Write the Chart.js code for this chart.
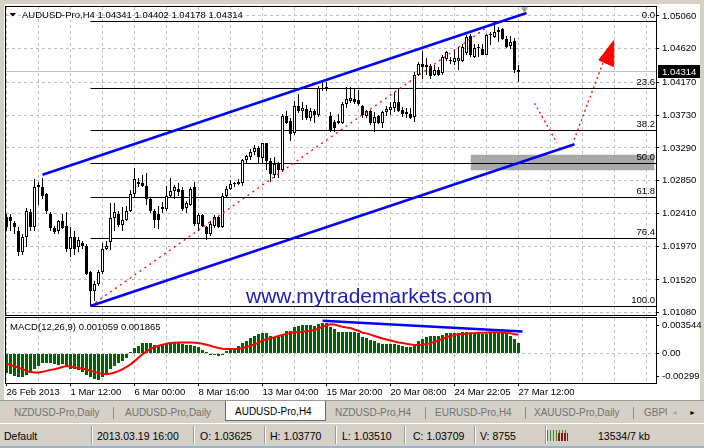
<!DOCTYPE html>
<html>
<head>
<meta charset="utf-8">
<script src="https://cdn.jsdelivr.net/npm/chart.js@4.4.1/dist/chart.umd.min.js"></script>
<style>
  html,body{margin:0;padding:0;}
  body{width:704px;height:448px;position:relative;overflow:hidden;background:#d4d0c8;font-family:'Liberation Sans',Arial,sans-serif;}
  #win{position:absolute;left:4px;top:4px;width:696px;height:396px;background:#fff;}
  canvas{position:absolute;left:0;}
  #price{top:0;}
  #macd{top:316px;}
  #tabs{position:absolute;left:0;top:400px;width:704px;height:23px;background:#d4d0c8;border-top:1px solid #9a9a9a;box-sizing:border-box;}
  #tabs .tt{position:absolute;top:6px;font-size:10px;line-height:11px;color:#707070;white-space:nowrap;}
  #tabs .vs{position:absolute;top:6px;width:1px;height:12px;background:#8a8a8a;}
  #tabs .act{position:absolute;top:0;height:20px;background:#fff;border:1px solid #6a6a6a;border-top:none;box-sizing:border-box;}
  #tabs .act span{position:absolute;left:9px;top:5px;font-size:10px;line-height:11px;color:#000;white-space:nowrap;}
  #tabs .ar{position:absolute;top:6px;font-size:7px;line-height:11px;}
  #status{position:absolute;left:0;top:423px;width:704px;height:23px;background:#d4d0c8;border-top:1px solid #fff;box-sizing:border-box;}
  #status .st{position:absolute;top:6px;font-size:10.5px;line-height:12px;color:#000;white-space:nowrap;}
  #status .vs{position:absolute;top:2px;width:1px;height:18px;background:#9a9a9a;border-right:1px solid #fff;}
  #status .ico{position:absolute;left:547px;top:6px;width:21px;height:11px;
    background:repeating-linear-gradient(90deg,#3a8a2a 0 1px,transparent 1px 3px);}
  #status .ico2{position:absolute;left:558px;top:9px;width:10px;height:8px;background:repeating-linear-gradient(90deg,#8a1a10 0 2px,transparent 2px 3px);}
  #edge{position:absolute;left:0;top:446px;width:704px;height:2px;background:#9fb2cc;}
</style>
</head>
<body>
<div id="win"></div>
<canvas id="price" width="704" height="316"></canvas>
<canvas id="macd" width="704" height="84"></canvas>

<div id="tabs">
  <span class="tt" style="left:14px">NZDUSD-Pro,Daily</span>
  <i class="vs" style="left:113px"></i>
  <span class="tt" style="left:125px">AUDUSD-Pro,Daily</span>
  <div class="act" style="left:225px;width:101px"><span>AUDUSD-Pro,H4</span></div>
  <span class="tt" style="left:335px">NZDUSD-Pro,H4</span>
  <i class="vs" style="left:425px"></i>
  <span class="tt" style="left:435px">EURUSD-Pro,H4</span>
  <i class="vs" style="left:525px"></i>
  <span class="tt" style="left:534px">XAUUSD-Pro,Daily</span>
  <i class="vs" style="left:633px"></i>
  <span class="tt" style="left:644px;width:23px;overflow:hidden">GBPUSD-Pro,H4</span>
  <span class="ar" style="left:671px;color:#a8a8a8">◄</span>
  <span class="ar" style="left:689px;color:#000">►</span>
</div>
<div id="status">
  <span class="st" style="left:4px">Default</span>
  <i class="vs" style="left:91px"></i>
  <span class="st" id="sTime" style="left:97px"></span>
  <i class="vs" style="left:193px"></i>
  <span class="st" id="sO" style="left:200px"></span>
  <i class="vs" style="left:264px"></i>
  <span class="st" id="sH" style="left:270px"></span>
  <i class="vs" style="left:335px"></i>
  <span class="st" id="sL" style="left:342px"></span>
  <i class="vs" style="left:404px"></i>
  <span class="st" id="sC" style="left:413px"></span>
  <i class="vs" style="left:474px"></i>
  <span class="st" id="sV" style="left:480px"></span>
  <i class="vs" style="left:545px"></i>
  <div class="ico"></div><div class="ico2"></div>
  <span class="st" style="left:598px">13534/7 kb</span>
</div>
<div id="edge"></div>

<script>
/* ---------------- Data (AUDUSD H4, bar 0 = 26 Feb 2013) ---------------- */
const candleOpen = [
  1.0237,1.0236,1.0229,1.0217,1.0190,1.0209,1.0243,1.0223,1.0276,1.0277,
  1.0267,1.0240,1.0221,1.0217,1.0231,1.0224,1.0193,1.0209,1.0196,1.0201,
  1.0197,1.0162,1.0137,1.0146,1.0162,1.0193,1.0203,1.0235,1.0241,1.0226,
  1.0233,1.0244,1.0267,1.0280,1.0282,1.0278,1.0261,1.0245,1.0241,1.0247,
  1.0247,1.0265,1.0271,1.0274,1.0272,1.0248,1.0253,1.0276,1.0227,1.0239,
  1.0223,1.0214,1.0224,1.0236,1.0223,1.0265,1.0274,1.0280,1.0283,1.0282,
  1.0313,1.0317,1.0324,1.0329,1.0316,1.0335,1.0311,1.0293,1.0307,1.0299,
  1.0372,1.0365,1.0349,1.0385,1.0378,1.0381,1.0369,1.0379,1.0373,1.0408,
  1.0409,1.0372,1.0364,1.0363,1.0363,1.0388,1.0392,1.0394,1.0393,1.0385,
  1.0372,1.0378,1.03625,1.0372,1.0363,1.0377,1.0380,1.0383,1.0391,1.0380,
  1.0377,1.0375,1.0370,1.0427,1.0441,1.0440,1.0439,1.0427,1.0433,1.0429,
  1.0448,1.0446,1.0444,1.0445,1.0445,1.0456,1.0479,1.0451,1.0463,1.0462,
  1.0454,1.0481,1.0478,1.0484,1.0488,1.0475,1.0466,1.0472,1.04341
];
const candleHigh = [
  1.0240,1.0240,1.0231,1.0223,1.0213,1.0248,1.0247,1.0287,1.0284,1.0289,
  1.0269,1.0243,1.0224,1.0233,1.0240,1.0243,1.0223,1.0217,1.0209,1.0204,
  1.0200,1.0164,1.0150,1.0166,1.0202,1.0204,1.0255,1.0255,1.0244,1.0250,
  1.0251,1.0273,1.0302,1.0289,1.0293,1.0296,1.0262,1.0247,1.0251,1.0256,
  1.0278,1.0289,1.0279,1.0282,1.0276,1.0258,1.0277,1.0284,1.0242,1.0241,
  1.0225,1.0231,1.0239,1.0238,1.0269,1.0278,1.0286,1.0284,1.0287,1.0314,
  1.0320,1.0327,1.0333,1.0332,1.0336,1.0336,1.0316,1.0317,1.0310,1.0374,
  1.0379,1.0369,1.0392,1.0401,1.0390,1.0387,1.0382,1.0381,1.0412,1.0418,
  1.0417,1.0377,1.0367,1.0374,1.0391,1.0411,1.0411,1.0408,1.0407,1.0387,
  1.0380,1.0380,1.0377,1.0373,1.0379,1.0385,1.0391,1.0404,1.0409,1.0384,
  1.0382,1.0382,1.0431,1.0444,1.0459,1.0449,1.0442,1.0440,1.0437,1.0453,
  1.0459,1.0451,1.0461,1.0465,1.0469,1.0480,1.0482,1.0469,1.0468,1.0469,
  1.0482,1.0484,1.0498,1.0491,1.0490,1.0479,1.0479,1.0476,1.04402
];
const candleLow = [
  1.0217,1.0217,1.0213,1.0184,1.0185,1.0196,1.0217,1.0217,1.0253,1.0260,
  1.0240,1.0217,1.0213,1.0213,1.0220,1.0189,1.0183,1.0186,1.0190,1.0193,
  1.0158,1.0117,1.0124,1.0144,1.0160,1.0192,1.0192,1.0217,1.0223,1.0217,
  1.0231,1.0243,1.0263,1.0276,1.0276,1.0253,1.0242,1.0222,1.0220,1.0242,
  1.0244,1.0262,1.0260,1.0265,1.0244,1.0242,1.0251,1.0224,1.0217,1.0223,
  1.0206,1.0211,1.0222,1.0222,1.0222,1.0262,1.0272,1.0277,1.0279,1.0278,
  1.0307,1.0313,1.0320,1.0307,1.0308,1.0299,1.0284,1.0289,1.0289,1.0297,
  1.0361,1.0338,1.0347,1.0376,1.0367,1.0366,1.0365,1.0363,1.0371,1.0406,
  1.0406,1.0350,1.0351,1.0361,1.0361,1.0383,1.0389,1.0388,1.0385,1.0369,
  1.0369,1.0360,1.0351,1.0361,1.0356,1.0372,1.0373,1.0377,1.0377,1.0370,
  1.0369,1.0368,1.0364,1.0425,1.0422,1.0427,1.0422,1.0425,1.0426,1.0427,
  1.0445,1.0442,1.0440,1.0433,1.0444,1.0454,1.0451,1.0449,1.0451,1.0453,
  1.0453,1.0467,1.0476,1.0471,1.0474,1.0463,1.0462,1.0429,1.04178
];
const candleClose = [
  1.0223,1.0231,1.0223,1.0190,1.0209,1.0245,1.0223,1.0276,1.0279,1.0264,
  1.0244,1.0221,1.0216,1.0231,1.0221,1.0193,1.0209,1.0193,1.0205,1.0197,
  1.0160,1.0137,1.0146,1.0162,1.0194,1.0198,1.0235,1.0243,1.0226,1.0233,
  1.0244,1.0267,1.0287,1.0284,1.0278,1.0260,1.0244,1.0233,1.0233,1.0250,
  1.0265,1.0271,1.0277,1.0270,1.0247,1.0255,1.0274,1.0227,1.0239,1.0225,
  1.0214,1.0227,1.0236,1.0223,1.0265,1.0274,1.0280,1.0282,1.0281,1.0313,
  1.0318,1.0324,1.0329,1.0317,1.0335,1.0311,1.0294,1.0307,1.0299,1.0372,
  1.0363,1.0348,1.0385,1.0378,1.0382,1.0369,1.0379,1.0373,1.0410,1.0410,
  1.0409,1.0352,1.0356,1.0365,1.0388,1.0394,1.0396,1.0391,1.0388,1.0373,
  1.0378,1.0363,1.03709,1.0363,1.0377,1.0381,1.0384,1.0390,1.0378,1.0375,
  1.0375,1.0369,1.0427,1.0441,1.0437,1.0438,1.0426,1.0433,1.0427,1.0451,
  1.0457,1.0445,1.0450,1.0450,1.0465,1.0478,1.0453,1.0463,1.0463,1.0454,
  1.0481,1.0480,1.0485,1.0487,1.0475,1.0465,1.0471,1.0434,1.04314
];

const macdHist = [
  -0.00194,-0.00210,-0.00233,-0.00243,-0.00243,-0.00220,-0.00194,-0.00161,-0.00128,-0.00102,
  -0.00095,-0.00102,-0.00112,-0.00115,-0.00112,-0.00128,-0.00154,-0.00161,-0.00167,-0.00187,
  -0.00220,-0.00243,-0.00259,-0.00266,-0.00243,-0.00210,-0.00161,-0.00128,-0.00095,-0.00079,
  -0.00046,0.00010,0.00052,0.00075,0.00102,0.00108,0.00102,0.00085,0.00082,0.00085,
  0.00095,0.00102,0.00108,0.00102,0.00095,0.00085,0.00085,0.00075,0.00059,0.00036,
  0.00010,-0.00003,-0.00013,-0.00023,-0.00013,0.00020,0.00036,0.00052,0.00069,0.00108,
  0.00128,0.00151,0.00174,0.00194,0.00207,0.00207,0.00174,0.00167,0.00161,0.00184,
  0.00226,0.00226,0.00259,0.00276,0.00285,0.00285,0.00285,0.00279,0.00298,0.00305,
  0.00305,0.00266,0.00239,0.00216,0.00216,0.00216,0.00210,0.00210,0.00200,0.00167,
  0.00157,0.00134,0.00121,0.00102,0.00089,0.00089,0.00089,0.00089,0.00085,0.00075,
  0.00062,0.00062,0.00075,0.00128,0.00148,0.00167,0.00174,0.00174,0.00174,0.00187,
  0.00207,0.00207,0.00200,0.00200,0.00210,0.00216,0.00200,0.00200,0.00207,0.00194,
  0.00194,0.00207,0.00210,0.00207,0.00200,0.00200,0.00174,0.00141,0.001059
];
const macdSignal = [
  -0.00105,-0.00118,-0.00131,-0.00144,-0.00161,-0.00177,-0.00187,-0.00194,-0.00194,-0.00187,
  -0.00177,-0.00167,-0.00161,-0.00151,-0.00138,-0.00128,-0.00134,-0.00144,-0.00148,-0.00154,
  -0.00164,-0.00177,-0.00187,-0.00200,-0.00207,-0.00210,-0.00203,-0.00194,-0.00180,-0.00161,
  -0.00138,-0.00112,-0.00079,-0.00046,-0.00010,0.00020,0.00043,0.00062,0.00075,0.00085,
  0.00095,0.00102,0.00105,0.00108,0.00108,0.00108,0.00108,0.00105,0.00102,0.00095,
  0.00085,0.00075,0.00062,0.00052,0.00046,0.00043,0.00043,0.00043,0.00046,0.00052,
  0.00062,0.00075,0.00089,0.00105,0.00128,0.00141,0.00151,0.00161,0.00174,0.00184,
  0.00194,0.00203,0.00210,0.00213,0.00216,0.00220,0.00226,0.00233,0.00249,0.00266,
  0.00282,0.00292,0.00289,0.00276,0.00266,0.00259,0.00253,0.00239,0.00226,0.00207,
  0.00200,0.00187,0.00174,0.00161,0.00148,0.00138,0.00128,0.00118,0.00108,0.00102,
  0.00095,0.00089,0.00082,0.00082,0.00085,0.00092,0.00102,0.00115,0.00128,0.00144,
  0.00161,0.00174,0.00184,0.00190,0.00194,0.00197,0.00200,0.00203,0.00207,0.00207,
  0.00207,0.00210,0.00210,0.00210,0.00207,0.00203,0.00200,0.00190,0.001865
];

const priceTicks = [1.05060,1.04620,1.04170,1.03730,1.03290,1.02850,1.02410,1.01970,1.01520,1.01080];
const macdTickAt = [0.00284, 0, -0.00236];
const macdTickText = ["0.003544", "0.00", "-0.00299"];
const dateLabels = ["26 Feb 2013","1 Mar 12:00","6 Mar 00:00","8 Mar 16:00","13 Mar 04:00",
                    "15 Mar 20:00","20 Mar 08:00","24 Mar 22:05","27 Mar 12:00"];

// drawn objects (bar index, price)
const fibLevels = [0, 23.6, 38.2, 50, 61.8, 76.4, 100];
const fibHigh = 1.0498, fibLow = 1.0117, fibFromBar = 21, fibHighBar = 122;
const channelUpper = [[9, 1.0293], [130, 1.0510]];
const channelLower = [[21, 1.0117], [142, 1.0334]];
const projDown = [[132, 1.0389], [137.6, 1.0336]];
const projUp = [[141.9, 1.0340], [149.1, 1.0443]];
const projArrow = [[151.8, 1.0473], [148.1, 1.0447], [151.8, 1.0438], [151.8, 1.0473]];
const zoneBox = { from: 116, to: 162, top: 1.0320, bottom: 1.0299 };
const shiftMarker = [129.5, 1.0515];
const macdTrend = [[79, 0.00327], [129, 0.00218]];

const statusIdx = 92, statusTime = "2013.03.19 16:00", statusVolume = 8755;

/* ---------------- Setup ---------------- */
const FONT = "'Liberation Sans', Arial, sans-serif";
const GRID = "#c0c0c0";
Chart.defaults.font.family = FONT;
Chart.defaults.font.size = 9.5;
Chart.defaults.color = "#000";

const X_MIN = -0.125, X_MAX = 162.375;          // 4 px per bar
const PRICE_MIN = 1.0105, PRICE_MAX = 1.0518;
const MACD_MIN = -0.00299, MACD_MAX = 0.003544;
const last = candleClose.length - 1;
const fibPrice = l => fibHigh - (fibHigh - fibLow) * l / 100;
const pts = arr => arr.map(([x, y]) => ({ x, y }));
const xGridTicks = s => { const t = []; for (let v = 0; v <= X_MAX; v += 8) t.push({ value: v }); s.ticks = t; };
// fixed axis box, no label overhang padding
const fixBox = (w, h) => s => {
  if (w != null) s.width = w;
  if (h != null) s.height = h;
  s.paddingTop = s.paddingBottom = s.paddingLeft = s.paddingRight = 0;
};

/* ---------------- Plugins ---------------- */
// snap horizontal lines and bar edges to whole pixels, like the terminal does
const pixelSnap = {
  id: "pixelSnap",
  afterDatasetsUpdate(chart){
    chart.data.datasets.forEach((ds, i) => {
      const meta = chart.getDatasetMeta(i);
      if (ds.snap === "line") meta.data.forEach(p => { p.y = Math.floor(p.y) + 0.5; });
      if (ds.snap === "bar") meta.data.forEach(p => {
        let top = Math.round(p.y), base = Math.round(p.base);
        if (top === base) base = top + 1;
        p.y = top; p.base = base;
      });
    });
  }
};

const framePlugin = {
  id: "frame",
  afterDraw(chart){
    const { ctx, chartArea: a } = chart;
    ctx.save();
    ctx.strokeStyle = "#000"; ctx.lineWidth = 1;
    ctx.strokeRect(a.left - 0.5, a.top - 0.5, a.right - a.left + 1, a.bottom - a.top + 1);
    ctx.restore();
  }
};

const priceText = {
  id: "priceText",
  afterDatasetsDraw(chart){
    const { ctx, chartArea: a, scales: { y } } = chart;
    ctx.save();
    ctx.font = `9.5px ${FONT}`;
    ctx.fillStyle = "#000";
    ctx.textAlign = "right";
    fibLevels.forEach(l => ctx.fillText(l.toFixed(1), a.right - 1, Math.floor(y.getPixelForValue(fibPrice(l))) - 3));
    ctx.textAlign = "left";
    const title = `AUDUSD-Pro,H4 ${candleOpen[last].toFixed(5)} ${candleHigh[last].toFixed(5)} ${candleLow[last].toFixed(5)} ${candleClose[last].toFixed(5)}`;
    ctx.fillText(title, a.left + 16, a.top + 11);
    ctx.beginPath();
    ctx.moveTo(a.left + 3.5, a.top + 6); ctx.lineTo(a.left + 10, a.top + 6); ctx.lineTo(a.left + 6.75, a.top + 9.5);
    ctx.closePath(); ctx.fill();
    ctx.font = `21px ${FONT}`;
    ctx.fillStyle = "#2020b0";
    ctx.fillText("www.mytrademarkets.com", a.left + 240, a.bottom - 12);
    ctx.restore();
  },
  afterDraw(chart){
    const { ctx, chartArea: a, scales: { y } } = chart;
    const py = Math.round(y.getPixelForValue(candleClose[last]));
    ctx.save();
    ctx.fillStyle = "#000";
    ctx.fillRect(a.right + 2, py - 7, 42, 13);
    ctx.fillStyle = "#fff";
    ctx.font = `9.5px ${FONT}`;
    ctx.textBaseline = "middle";
    ctx.fillText(candleClose[last].toFixed(5), a.right + 6, py);
    ctx.restore();
  }
};

const macdText = {
  id: "macdText",
  afterDatasetsDraw(chart){
    const { ctx, chartArea: a } = chart;
    ctx.save();
    ctx.font = `9.5px ${FONT}`;
    ctx.fillStyle = "#000";
    ctx.fillText(`MACD(12,26,9) ${macdHist[last].toFixed(6)} ${macdSignal[last].toFixed(6)}`, a.left + 4, a.top + 12);
    ctx.restore();
  }
};

/* ---------------- Price chart ---------------- */
const wickData = candleOpen.map((_, i) => ({ x: i, y: [candleLow[i], candleHigh[i]] }));
const bodyData = candleOpen.map((o, i) => ({ x: i, y: [o, candleClose[i]] }));
const bodyFill = candleOpen.map((o, i) => candleClose[i] >= o ? "#fff" : "#000");
const line = (data, color, width, order, extra = {}) =>
  Object.assign({ type: "line", data, borderColor: color, borderWidth: width, pointRadius: 0, tension: 0, order }, extra);

new Chart(document.getElementById("price"), {
  type: "bar",
  data: {
    datasets: [
      line([{ x: zoneBox.from, y: zoneBox.top }, { x: zoneBox.to, y: zoneBox.top }], "#a8a8a8", 0, 20,
           { fill: { value: zoneBox.bottom }, backgroundColor: "#a8a8a8" }),
      line([{ x: X_MIN, y: candleClose[last] }, { x: X_MAX, y: candleClose[last] }], "#c0c0c0", 1, 19, { snap: "line" }),
      ...fibLevels.map(l => line([{ x: fibFromBar, y: fibPrice(l) }, { x: X_MAX, y: fibPrice(l) }], "#000", 1, 18, { snap: "line" })),
      { type: "bar", data: wickData, backgroundColor: "#000", barThickness: 1, grouped: false,
        minBarLength: 1, inflateAmount: 0, order: 6, snap: "bar" },
      { type: "bar", data: bodyData, backgroundColor: bodyFill, borderColor: "#000", borderWidth: 1,
        borderSkipped: false, barThickness: 3, grouped: false, minBarLength: 1, inflateAmount: 0, order: 5, snap: "bar" },
      line([{ x: fibFromBar, y: fibLow }, { x: fibHighBar, y: fibHigh }], "#ff0000", 1.3, 4, { borderDash: [2, 4] }),
      line(pts(channelUpper), "#0000ff", 2.5, 3),
      line(pts(channelLower), "#0000ff", 2.5, 3),
      line(pts(projDown), "#ff0000", 1.3, 2, { borderDash: [2, 3] }),
      line(pts(projUp), "#ff0000", 1.3, 2, { borderDash: [2, 3] }),
      line(pts(projArrow), "#ff0000", 1, 1, { fill: "shape", backgroundColor: "#ff0000" }),
      line([{ x: shiftMarker[0], y: shiftMarker[1] }], "#a0a0a0", 0, 0,
           { pointRadius: 4, pointStyle: "triangle", rotation: 180, backgroundColor: "#a0a0a0", pointBorderWidth: 0, clip: false })
    ]
  },
  options: {
    responsive: false, animation: false, devicePixelRatio: 1,
    layout: { padding: { left: 6, top: 7, right: 0, bottom: 1 }, autoPadding: false },
    plugins: { legend: { display: false }, tooltip: { enabled: false } },
    scales: {
      x: { type: "linear", min: X_MIN, max: X_MAX, offset: false, afterBuildTicks: xGridTicks,
           afterFit: fixBox(null, 0),
           ticks: { display: false }, grid: { offset: false, color: GRID, drawTicks: false },
           border: { display: false, dash: [3, 3] } },
      y: { position: "right", min: PRICE_MIN, max: PRICE_MAX, beginAtZero: false,
           afterBuildTicks: s => { s.ticks = priceTicks.map(v => ({ value: v })); },
           afterFit: fixBox(48, null),
           ticks: { padding: 3, autoSkip: false, callback: v => v.toFixed(5) },
           grid: { color: GRID, tickColor: "#000", tickLength: 3 },
           border: { display: false, dash: [3, 3] } }
    }
  },
  plugins: [pixelSnap, priceText, framePlugin]
});

/* ---------------- MACD chart ---------------- */
new Chart(document.getElementById("macd"), {
  type: "bar",
  data: {
    datasets: [
      line(pts(macdTrend), "#0000ff", 2.5, 0),
      line(macdSignal.map((y, i) => ({ x: i, y })), "#ff0000", 2, 1),
      { type: "bar", data: macdHist.map((y, i) => ({ x: i, y })), backgroundColor: "#006400",
        barThickness: 3, grouped: false, inflateAmount: 0, order: 2, snap: "bar" }
    ]
  },
  options: {
    responsive: false, animation: false, devicePixelRatio: 1,
    layout: { padding: { left: 6, top: 2, right: 0, bottom: 0 }, autoPadding: false },
    plugins: { legend: { display: false }, tooltip: { enabled: false } },
    scales: {
      x: { type: "linear", min: X_MIN, max: X_MAX, offset: false, afterBuildTicks: xGridTicks,
           afterFit: fixBox(null, 17),
           ticks: { autoSkip: false, maxRotation: 0, minRotation: 0, align: "start", padding: 1,
                    callback: v => (v % 16 === 0 ? (dateLabels[v / 16] || "") : "") },
           grid: { offset: false, color: GRID, tickLength: 3,
                   tickColor: c => (c.tick && c.tick.value % 16 === 0 && c.tick.value <= 128 ? "#000" : "rgba(0,0,0,0)") },
           border: { display: false, dash: [3, 3] } },
      y: { position: "right", min: MACD_MIN, max: MACD_MAX, beginAtZero: false,
           afterBuildTicks: s => { s.ticks = macdTickAt.map(v => ({ value: v })); },
           afterFit: fixBox(48, null),
           ticks: { padding: 3, autoSkip: false, callback: (v, i) => macdTickText[i] },
           grid: { color: c => (c.tick && c.tick.value === 0 ? GRID : "rgba(0,0,0,0)"), tickColor: "#000", tickLength: 3 },
           border: { display: false, dash: [3, 3] } }
    }
  },
  plugins: [pixelSnap, macdText, framePlugin]
});

/* ---------------- Status bar ---------------- */
document.getElementById("sTime").textContent = statusTime;
document.getElementById("sO").textContent = "O: " + candleOpen[statusIdx].toFixed(5);
document.getElementById("sH").textContent = "H: " + candleHigh[statusIdx].toFixed(5);
document.getElementById("sL").textContent = "L: " + candleLow[statusIdx].toFixed(5);
document.getElementById("sC").textContent = "C: " + candleClose[statusIdx].toFixed(5);
document.getElementById("sV").textContent = "V: " + statusVolume;
</script>
</body>
</html>
